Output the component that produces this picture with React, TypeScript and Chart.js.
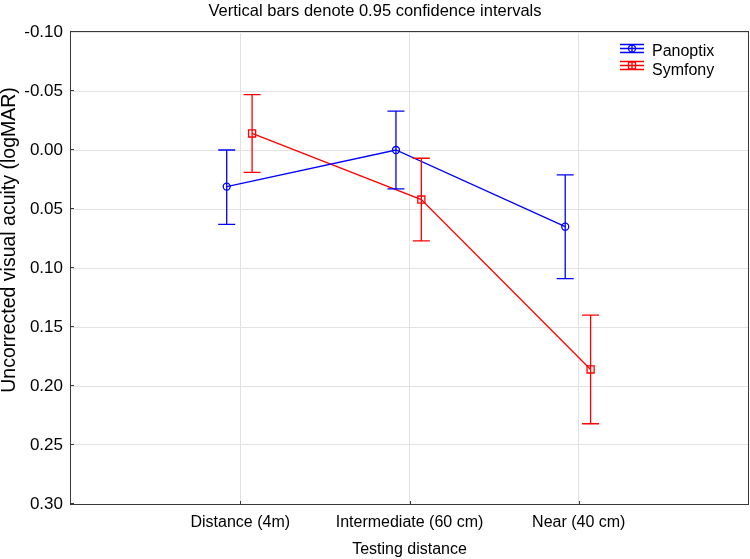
import React, { useEffect, useRef } from 'react';
import { Chart, registerables } from 'chart.js';

Chart.register(...registerables);

// ---- data ----
const categories = ['Distance (4m)', 'Intermediate (60 cm)', 'Near (40 cm)'];
const seriesNames = ['Panoptix', 'Symfony'];
const panoptixMean = [0.031, 0.0, 0.065];
const panoptixLow = [0.0, -0.033, 0.021];
const panoptixHigh = [0.063, 0.033, 0.109];
const symfonyMean = [-0.014, 0.042, 0.186];
const symfonyLow = [-0.047, 0.007, 0.14];
const symfonyHigh = [0.019, 0.077, 0.232];
const yTicks = [-0.1, -0.05, 0.0, 0.05, 0.1, 0.15, 0.2, 0.25, 0.3];
const titleText = 'Vertical bars denote 0.95 confidence intervals';
const xTitleText = 'Testing distance';
const yTitleText = 'Uncorrected visual acuity (logMAR)';

// ---- style ----
const FONT = "'Liberation Sans', Arial, sans-serif";
const BLUE = '#0000ff';
const RED = '#ff0000';
const OFFSETS = [-0.08, 0.07];
const GRID = '#e2e2e2';
const FRAME = '#383838';
const CAP = 8.5;

const errorBarsPlugin = {
  id: 'errorBars',
  afterDatasetsDraw(chart: any) {
    const ctx = chart.ctx;
    const yScale = chart.scales.y;
    chart.data.datasets.forEach((ds: any, di: number) => {
      const meta = chart.getDatasetMeta(di);
      ctx.save();
      ctx.strokeStyle = ds.borderColor;
      ctx.lineWidth = 1.3;
      meta.data.forEach((pt: any, i: number) => {
        const x = pt.x;
        const y1 = yScale.getPixelForValue(ds.errLow[i]);
        const y2 = yScale.getPixelForValue(ds.errHigh[i]);
        ctx.beginPath();
        ctx.moveTo(x, y1);
        ctx.lineTo(x, y2);
        ctx.moveTo(x - CAP, y1);
        ctx.lineTo(x + CAP, y1);
        ctx.moveTo(x - CAP, y2);
        ctx.lineTo(x + CAP, y2);
        ctx.stroke();
      });
      ctx.restore();
    });
  },
};

const framePlugin = {
  id: 'frame',
  afterDraw(chart: any) {
    const ctx = chart.ctx;
    const { left, right, top, bottom } = chart.chartArea;
    ctx.save();
    ctx.strokeStyle = FRAME;
    ctx.lineWidth = 1;
    ctx.strokeRect(left - 0.5, top - 0.5, right - left + 1, bottom - top + 1);
    // inward tick marks
    ctx.beginPath();
    chart.scales.y.ticks.forEach((t: any) => {
      const y = Math.round(chart.scales.y.getPixelForValue(t.value)) - 0.5;
      ctx.moveTo(left, y);
      ctx.lineTo(left + 3, y);
    });
    chart.scales.x.ticks.forEach((t: any) => {
      const x = Math.round(chart.scales.x.getPixelForValue(t.value)) + 0.5;
      ctx.moveTo(x, bottom);
      ctx.lineTo(x, bottom - 3);
    });
    ctx.stroke();

    // title
    ctx.fillStyle = '#000';
    ctx.font = `16.5px ${FONT}`;
    ctx.textAlign = 'center';
    ctx.textBaseline = 'middle';
    ctx.fillText(titleText, chart.width / 2, 11);

    // y axis title
    ctx.save();
    ctx.translate(10, 240);
    ctx.rotate(-Math.PI / 2);
    ctx.font = `19.5px ${FONT}`;
    ctx.textAlign = 'center';
    ctx.textBaseline = 'middle';
    ctx.fillText(yTitleText, 0, 0);
    ctx.restore();

    // legend
    const colors = [BLUE, RED];
    const symY = [48.5, 65.5];
    const txtY = [52, 70.5];
    const sx = 632;
    seriesNames.forEach((name, i) => {
      const cy = symY[i];
      ctx.strokeStyle = colors[i];
      ctx.lineWidth = 1.3;
      ctx.beginPath();
      ctx.moveTo(sx - 12, cy);
      ctx.lineTo(sx + 12, cy);
      ctx.moveTo(sx - 12, cy - 4);
      ctx.lineTo(sx + 12, cy - 4);
      ctx.moveTo(sx - 12, cy + 4);
      ctx.lineTo(sx + 12, cy + 4);
      ctx.moveTo(sx, cy - 4);
      ctx.lineTo(sx, cy + 4);
      ctx.stroke();
      ctx.beginPath();
      if (i === 0) {
        ctx.arc(sx, cy, 3.5, 0, Math.PI * 2);
      } else {
        ctx.rect(sx - 3.5, cy - 3.5, 7, 7);
      }
      ctx.stroke();
      ctx.fillStyle = '#000';
      ctx.textAlign = 'left';
      ctx.textBaseline = 'middle';
      ctx.font = `16px ${FONT}`;
      ctx.fillText(name, 652, txtY[i]);
    });
    ctx.restore();
  },
};

export default function App() {
  const ref = useRef<HTMLCanvasElement>(null);
  useEffect(() => {
    document.body.style.margin = '0';
    Chart.defaults.font.family = FONT;
    Chart.defaults.color = '#000';
    const mk = (mean: number[], off: number) =>
      mean.map((v, i) => ({ x: i + 1 + off, y: v }));
    const chart = new Chart(ref.current as HTMLCanvasElement, {
      type: 'line',
      data: {
        datasets: [
          {
            label: seriesNames[0],
            data: mk(panoptixMean, OFFSETS[0]),
            borderColor: BLUE,
            backgroundColor: 'rgba(0,0,0,0)',
            borderWidth: 1.3,
            pointStyle: 'circle',
            pointRadius: 3.5,
            pointBorderWidth: 1.3,
            pointBackgroundColor: 'rgba(0,0,0,0)',
            errLow: panoptixLow,
            errHigh: panoptixHigh,
          } as any,
          {
            label: seriesNames[1],
            data: mk(symfonyMean, OFFSETS[1]),
            borderColor: RED,
            backgroundColor: 'rgba(0,0,0,0)',
            borderWidth: 1.3,
            pointStyle: 'rect',
            pointRadius: 5,
            pointBorderWidth: 1.3,
            pointBackgroundColor: 'rgba(0,0,0,0)',
            errLow: symfonyLow,
            errHigh: symfonyHigh,
          } as any,
        ],
      },
      options: {
        responsive: false,
        animation: false,
        layout: { autoPadding: false, padding: { top: 32, right: 2, left: 0, bottom: 0 } },
        plugins: {
          legend: { display: false },
          title: { display: false },
          tooltip: { enabled: false },
        },
        scales: {
          x: {
            type: 'linear',
            min: 0,
            max: 4,
            afterBuildTicks: (s: any) => {
              s.ticks = categories.map((_, i) => ({ value: i + 1 }));
            },
            afterFit: (s: any) => {
              s.height = 55;
              s.paddingLeft = 0;
              s.paddingRight = 0;
            },
            ticks: {
              callback: (_v: any, i: number) => categories[i],
              font: { size: 16 },
              padding: 9,
              maxRotation: 0,
              autoSkip: false,
            },
            grid: { color: GRID, drawTicks: false, lineWidth: 1 },
            border: { display: false },
            title: {
              display: true,
              text: xTitleText,
              font: { size: 16 },
              padding: { top: 0, bottom: 0 },
            },
          },
          y: {
            type: 'linear',
            reverse: true,
            min: -0.1,
            max: 0.3,
            afterBuildTicks: (s: any) => {
              s.ticks = yTicks.map((v) => ({ value: v }));
            },
            afterFit: (s: any) => {
              s.width = 71;
              s.paddingTop = 0;
              s.paddingBottom = 0;
            },
            ticks: {
              callback: (v: any) => Number(v).toFixed(2),
              font: { size: 17 },
              padding: 8,
              autoSkip: false,
            },
            grid: { color: GRID, drawTicks: false, lineWidth: 1 },
            border: { display: false },
            title: { display: false },
          },
        },
      } as any,
      plugins: [errorBarsPlugin, framePlugin],
    });
    return () => chart.destroy();
  }, []);
  return (
    <div style={{ width: 750, height: 559 }}>
      <canvas ref={ref} width={750} height={559} style={{ display: 'block' }} />
    </div>
  );
}
